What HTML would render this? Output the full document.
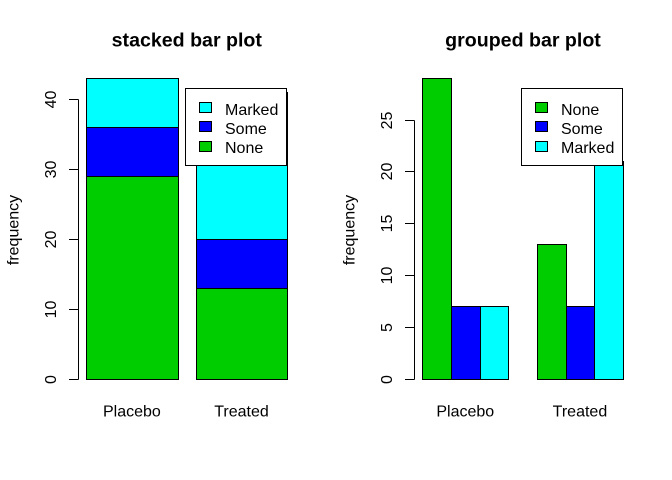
<!DOCTYPE html>
<html lang="en">
<head>
<meta charset="utf-8">
<title>Stacked and grouped bar plots</title>
<style>
html,body{margin:0;padding:0;background:#fff;}
svg{display:block;}
text{font-family:"Liberation Sans",Arial,sans-serif;fill:#000;}
</style>
</head>
<body>
<svg id="chart" width="672" height="480" viewBox="0 0 672 480" xmlns="http://www.w3.org/2000/svg"></svg>
<script>
const categories = ['Placebo', 'Treated'];
const seriesNames = ['None', 'Some', 'Marked'];
const noneValues = [29, 13];
const someValues = [7, 7];
const markedValues = [7, 21];
const stackedTicks = [0, 10, 20, 30, 40];
const groupedTicks = [0, 5, 10, 15, 20, 25];
const seriesColors = ['#00cd00', '#0000ff', '#00ffff'];

const svg = document.getElementById('chart');
const NS = 'http://www.w3.org/2000/svg';
const seriesValues = [noneValues, someValues, markedValues];

function snap(v) { return Math.floor(v) + 0.5; }
function make(tag, attrs, parent) {
  const el = document.createElementNS(NS, tag);
  for (const k in attrs) el.setAttribute(k, attrs[k]);
  parent.appendChild(el);
  return el;
}
function rect(x0, x1, y0, y1, fill, parent) {
  return make('rect', {x: x0, y: y0, width: x1 - x0, height: y1 - y0, fill: fill, stroke: '#000', 'stroke-width': 1, 'shape-rendering': 'crispEdges'}, parent);
}
function line(x1, y1, x2, y2, parent) {
  return make('line', {x1: x1, y1: y1, x2: x2, y2: y2, stroke: '#000', 'stroke-width': 1, 'shape-rendering': 'crispEdges'}, parent);
}
function label(str, x, y, size, anchor, weight, rotate, parent) {
  const attrs = {x: x, y: y, 'font-size': size, 'text-anchor': anchor};
  if (weight) attrs['font-weight'] = weight;
  if (rotate) attrs.transform = 'rotate(-90 ' + x + ' ' + y + ')';
  const el = make('text', attrs, parent);
  el.textContent = str;
  return el;
}
function drawAxis(ticks, yScale, axisX, panelName) {
  const axis = make('g', {}, svg);
  
  
  const top = snap(yScale(ticks[ticks.length - 1]));
  const axisLine = line(axisX, top, axisX, snap(yScale(ticks[0])), axis);
  
  
  ticks.forEach(function (t) {
    const yy = snap(yScale(t));
    const tick = line(axisX - 9.5, yy, axisX, yy, axis);
    
    
    const tl = label(String(t), axisX - 22.5, yy, 16, 'middle', null, true, axis);
    
    
  });
  const title = label('frequency', axisX - 60, 230, 16, 'middle', null, true, svg);
  
  
}
function drawLegend(order, left, panelName) {
  const g = make('g', {}, svg);
  
  
  const box = rect(left, left + 101, 88.5, 165.5, '#fff', g);
  
  
  order.forEach(function (s, i) {
    const top = Math.floor(102.5 + i * 19.3) + 0.5;
    const sw = rect(left + 14, left + 26, top, top + 10, seriesColors[s], g);
    
    
    const tx = label(seriesNames[s], left + 39.5, 115 + i * 19, 16, 'start', null, false, g);
    
    
  });
}

/* ---------- stacked panel ---------- */
const stackedY = function (v) { return 379.8 - 7 * v; };
const stackedX = function (u) { return 68.5 + 91.3 * u; };
const stackedTitle = label('stacked bar plot', 186.8, 46.5, 19.6, 'middle', 'bold', false, svg);


drawAxis(stackedTicks, stackedY, 78.5, 'stacked');
categories.forEach(function (cat, c) {
  const start = 0.2 + c * 1.2;
  const x0 = snap(stackedX(start));
  const x1 = snap(stackedX(start + 1));
  let total = 0;
  seriesValues.forEach(function (vals, s) {
    const next = total + vals[c];
    const bar = rect(x0, x1, snap(stackedY(next)), snap(stackedY(total)), seriesColors[s], svg);
    
    
    total = next;
  });
  const cl = label(cat, (stackedX(start) + stackedX(start + 1)) / 2 - 0.5, 416.5, 16, 'middle', null, false, svg);
  
  
});
drawLegend([2, 1, 0], 185.5, 'stacked');

/* ---------- grouped panel ---------- */
const groupedY = function (v) { return 379.5 - 10.38 * v; };
const groupedX = function (u) { return 394.1 + 28.67 * u; };
const groupedTitle = label('grouped bar plot', 523, 46.5, 19.6, 'middle', 'bold', false, svg);


drawAxis(groupedTicks, groupedY, 414.5, 'grouped');
categories.forEach(function (cat, c) {
  const start = 1 + c * (seriesValues.length + 1);
  seriesValues.forEach(function (vals, s) {
    const bar = rect(snap(groupedX(start + s)), snap(groupedX(start + s + 1)), snap(groupedY(vals[c])), snap(groupedY(0)), seriesColors[s], svg);
    
    
  });
  const cl = label(cat, groupedX(start + seriesValues.length / 2) - 0.5, 416.5, 16, 'middle', null, false, svg);
  
  
});
drawLegend([0, 1, 2], 521.5, 'grouped');
</script>
</body>
</html>
